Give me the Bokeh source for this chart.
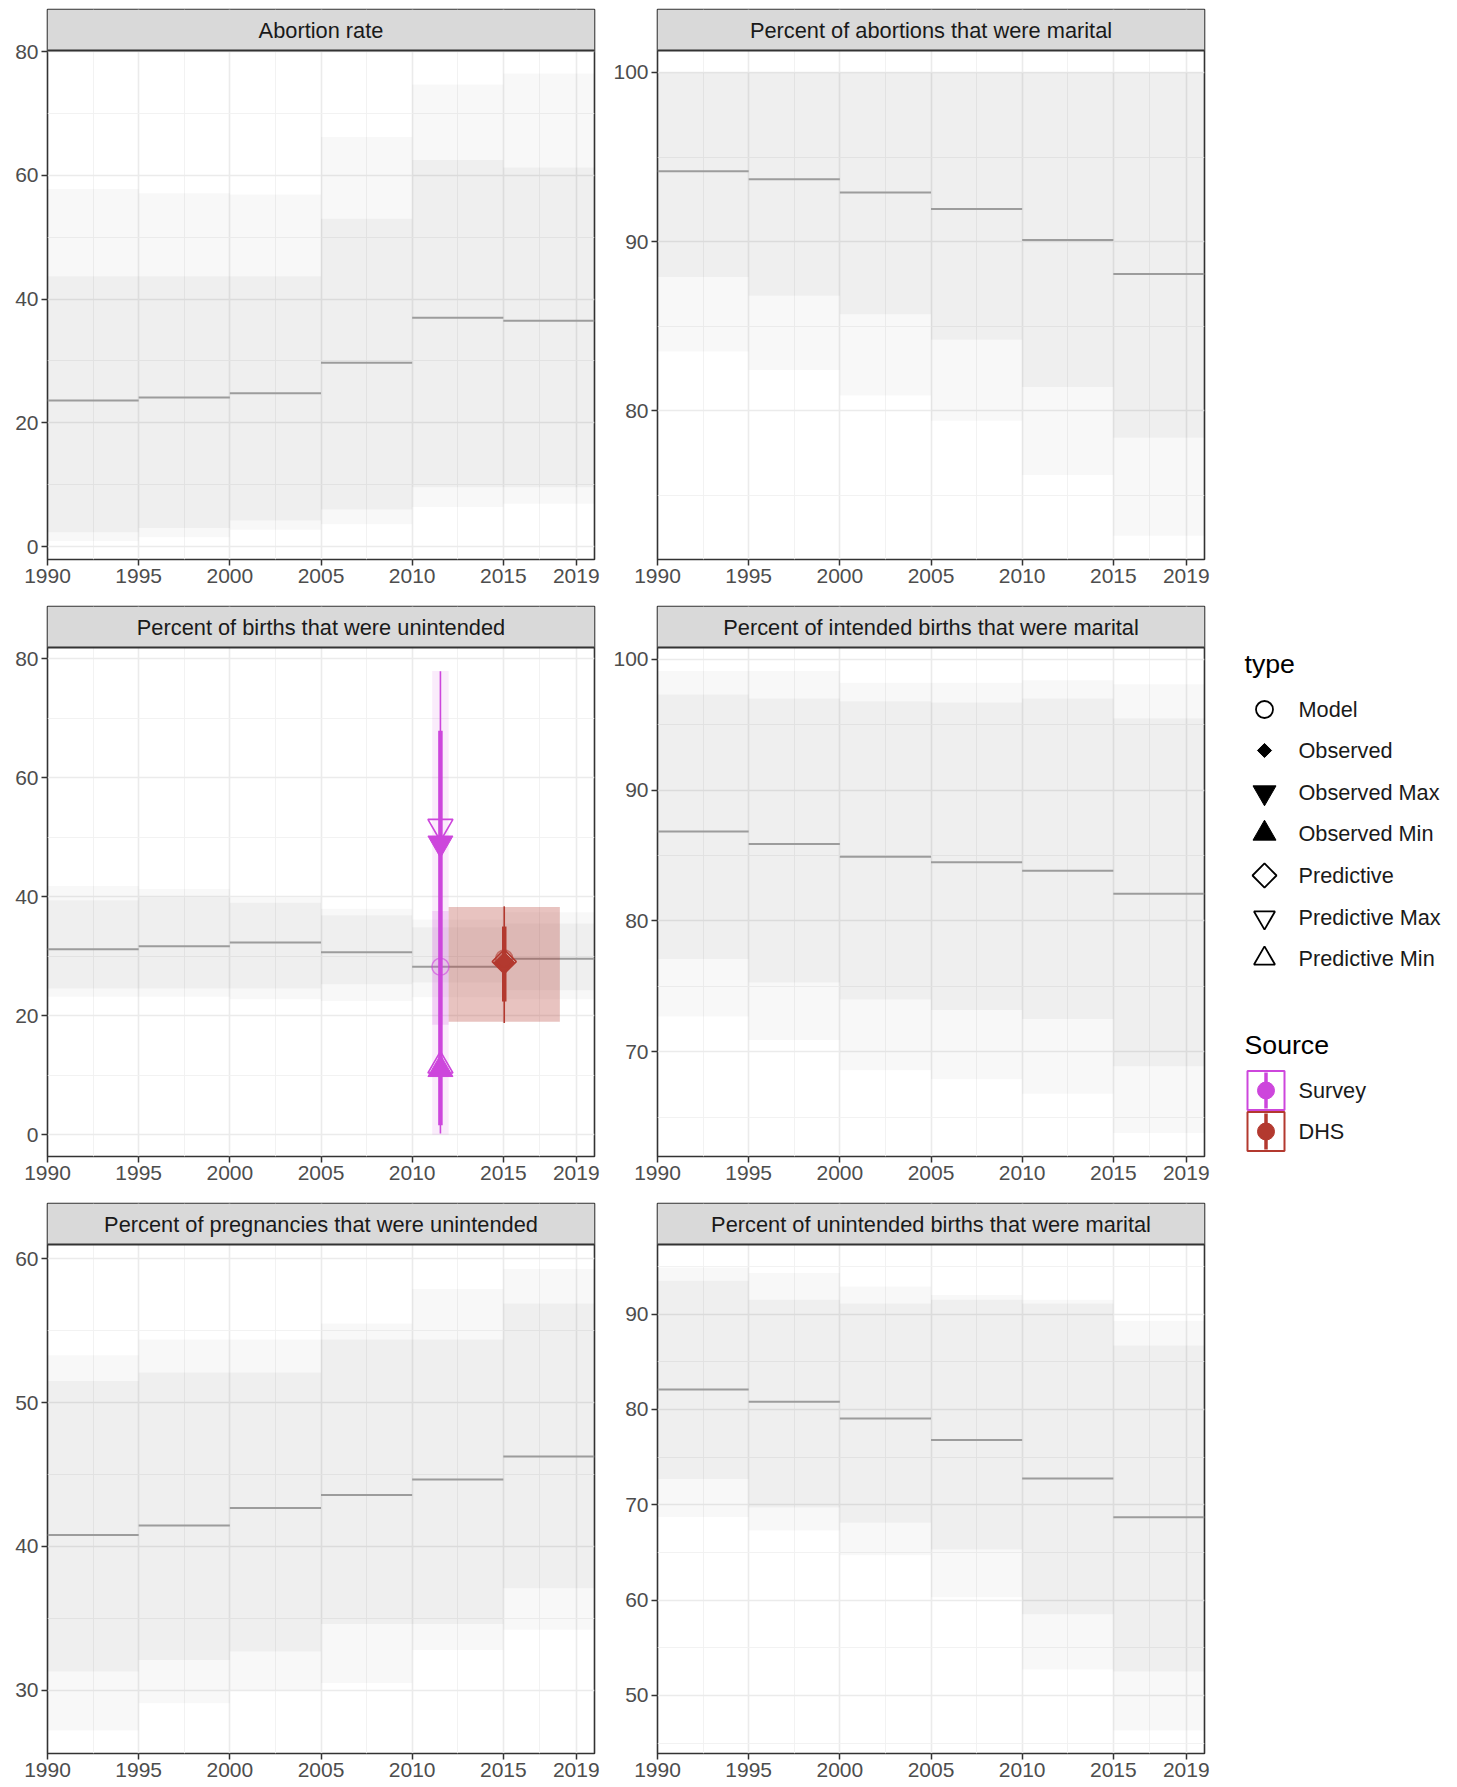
import numpy as np
from bokeh.plotting import figure
from bokeh.layouts import row, column
from bokeh.models import Range1d, FixedTicker
from bokeh.embed import file_html
from bokeh.resources import INLINE
from bokeh.core.properties import value

FONT = "Liberation Sans"
SURVEY = "#CD46DC"
DHS = "#B3392F"
MED = "#9c9c9c"

# ---------------- data ----------------
period_start = [1990, 1995, 2000, 2005, 2010, 2015]
period_end = [1995, 2000, 2005, 2010, 2015, 2020]
x_ticks = [1990, 1995, 2000, 2005, 2010, 2015, 2019]
x_minor = [1992.5, 1997.5, 2002.5, 2007.5, 2012.5, 2017]

abortion_title = "Abortion rate"
abortion_median = [23.6, 24.1, 24.8, 29.7, 37.0, 36.5]
abortion_inner_lo = [2.3, 3.0, 4.2, 6.0, 9.6, 9.6]
abortion_inner_hi = [43.7, 43.7, 43.7, 53.0, 62.5, 61.3]
abortion_outer_lo = [0.9, 1.5, 2.7, 3.6, 6.4, 6.9]
abortion_outer_hi = [57.8, 57.1, 56.9, 66.2, 74.7, 76.5]
abortion_yticks = [0, 20, 40, 60, 80]
abortion_yminor = [10, 30, 50, 70]
abortion_yrange = (-2.1, 80.2)

abmar_title = "Percent of abortions that were marital"
abmar_median = [94.16, 93.68, 92.9, 91.92, 90.1, 88.08]
abmar_inner_lo = [87.9, 86.8, 85.7, 84.2, 81.4, 78.4]
abmar_inner_hi = [100.0, 100.0, 100.0, 100.0, 100.0, 100.0]
abmar_outer_lo = [83.5, 82.4, 80.9, 79.4, 76.2, 72.6]
abmar_outer_hi = [100.0, 100.0, 100.0, 100.0, 100.0, 100.0]
abmar_yticks = [80, 90, 100]
abmar_yminor = [75, 85, 95]
abmar_yrange = (71.2, 101.3)

birthunint_title = "Percent of births that were unintended"
birthunint_median = [31.2, 31.7, 32.3, 30.7, 28.25, 29.6]
birthunint_inner_lo = [24.6, 24.6, 24.6, 25.3, 25.6, 24.3]
birthunint_inner_hi = [39.4, 39.9, 39.0, 36.9, 34.9, 35.5]
birthunint_outer_lo = [23.2, 23.2, 22.8, 22.5, 23.1, 22.8]
birthunint_outer_hi = [41.8, 41.3, 39.9, 38.0, 36.2, 37.4]
birthunint_yticks = [0, 20, 40, 60, 80]
birthunint_yminor = [10, 30, 50, 70]
birthunint_yrange = (-3.65, 81.9)

intmar_title = "Percent of intended births that were marital"
intmar_median = [86.83, 85.88, 84.91, 84.49, 83.84, 82.08]
intmar_inner_lo = [77.1, 75.3, 74.0, 73.2, 72.5, 68.9]
intmar_inner_hi = [97.3, 97.0, 96.8, 96.7, 97.0, 95.5]
intmar_outer_lo = [72.7, 70.9, 68.6, 67.9, 66.8, 63.8]
intmar_outer_hi = [99.1, 99.1, 98.2, 98.2, 98.4, 98.1]
intmar_yticks = [70, 80, 90, 100]
intmar_yminor = [65, 75, 85, 95]
intmar_yrange = (62.0, 100.9)

pregunint_title = "Percent of pregnancies that were unintended"
pregunint_median = [40.79, 41.45, 42.67, 43.57, 44.65, 46.26]
pregunint_inner_lo = [31.3, 32.1, 32.7, 34.6, 34.6, 37.1]
pregunint_inner_hi = [51.5, 52.1, 52.1, 54.4, 54.4, 56.9]
pregunint_outer_lo = [27.2, 29.1, 30.0, 30.5, 32.8, 34.2]
pregunint_outer_hi = [53.3, 54.4, 54.4, 55.5, 57.9, 59.3]
pregunint_yticks = [30, 40, 50, 60]
pregunint_yminor = [35, 45, 55]
pregunint_yrange = (25.6, 61.0)

unintmar_title = "Percent of unintended births that were marital"
unintmar_median = [82.08, 80.8, 79.04, 76.8, 72.76, 68.68]
unintmar_inner_lo = [72.7, 69.7, 68.1, 65.3, 58.5, 52.5]
unintmar_inner_hi = [93.5, 91.5, 91.1, 91.5, 91.1, 86.7]
unintmar_outer_lo = [68.7, 67.3, 64.7, 60.3, 52.7, 46.3]
unintmar_outer_hi = [94.9, 94.3, 92.9, 92.0, 91.5, 89.3]
unintmar_yticks = [50, 60, 70, 80, 90]
unintmar_yminor = [45, 55, 65, 75, 85, 95]
unintmar_yrange = (43.9, 97.3)

# observations (births unintended panel)
survey_year = 2011.55
survey_span = [2011.1, 2012.0]
survey_outer = [0.0, 77.95]
survey_box = [18.5, 37.6]
survey_thin = [0.2, 77.9]
survey_thick = [1.6, 67.9]
survey_obs_max = 49.0
survey_pred_max = 51.8
survey_obs_min = 11.0
survey_pred_min = 11.6
survey_model = 28.25

dhs_year = 2015.05
dhs_span = [2012.0, 2018.1]
dhs_box = [19.0, 38.3]
dhs_thin = [18.8, 38.4]
dhs_thick = [22.4, 35.0]
dhs_obs = 28.9
dhs_pred = 29.1
dhs_model = 29.6

type_labels = ["Model", "Observed", "Observed Max", "Observed Min",
               "Predictive", "Predictive Max", "Predictive Min"]
source_labels = ["Survey", "DHS"]

# ---------------- layout constants ----------------
FRAME_W = 547
PLOT_H = 509          # data area height
STRIP_H = 41          # facet strip height (inside the frame, above the data area)
L_LEFT, L_RIGHT = 47, 12
R_LEFT, R_RIGHT = 51, 12
ROW_TOP = [9, 12, 12]
ROW_BOTTOM = [35, 35, 33]


def panel(title, median, ilo, ihi, olo, ohi, yrange, yticks, yminor,
          left, right, top, bottom):
    y0, y1 = yrange
    ytop = y1 + (y1 - y0) * STRIP_H / PLOT_H
    p = figure(frame_width=FRAME_W, frame_height=PLOT_H + STRIP_H,
               x_range=Range1d(1990, 2020), y_range=Range1d(y0, ytop),
               min_border_left=left, min_border_right=right,
               min_border_top=top, min_border_bottom=bottom,
               toolbar_location=None, output_backend="svg",
               background_fill_color="white", border_fill_color="white")
    p.outline_line_color = "#333333"
    p.outline_line_width = 1.6
    p.xaxis.ticker = FixedTicker(ticks=x_ticks, minor_ticks=x_minor)
    p.yaxis.ticker = FixedTicker(ticks=yticks, minor_ticks=yminor)
    for ax in p.axis:
        ax.axis_line_color = None
        ax.major_tick_line_color = "#333333"
        ax.major_tick_line_width = 1.5
        ax.major_tick_out = 6
        ax.major_tick_in = 0
        ax.minor_tick_line_color = None
        ax.major_label_text_font = FONT
        ax.major_label_text_font_size = "21px"
        ax.major_label_text_color = "#4d4d4d"
        ax.major_label_standoff = 3
    for g in p.grid:
        g.grid_line_color = "#ebebeb"
        g.grid_line_width = 1.6
        g.minor_grid_line_color = "#f0f0f0"
        g.minor_grid_line_width = 0.9
    p.quad(left=period_start, right=period_end, bottom=olo, top=ohi,
           fill_color="black", fill_alpha=0.028, line_color=None)
    p.quad(left=period_start, right=period_end, bottom=ilo, top=ihi,
           fill_color="black", fill_alpha=0.036, line_color=None)
    p.segment(x0=period_start, x1=period_end, y0=median, y1=median,
              line_color=MED, line_width=2)
    # facet strip
    p.quad(left=[1990], right=[2020], bottom=[y1], top=[ytop],
           fill_color="#d9d9d9", line_color=None)
    p.segment(x0=[1990], x1=[2020], y0=[y1], y1=[y1],
              line_color="#333333", line_width=2.2)
    p.text(x=[2005], y=[(y1 + ytop) / 2], text=[title], text_align="center",
           text_baseline="middle", text_font=value(FONT),
           text_font_size="21.8px", text_color="#1a1a1a")
    return p


p1 = panel(abortion_title, abortion_median, abortion_inner_lo, abortion_inner_hi,
           abortion_outer_lo, abortion_outer_hi, abortion_yrange,
           abortion_yticks, abortion_yminor, L_LEFT, L_RIGHT, ROW_TOP[0], ROW_BOTTOM[0])
p3 = panel(birthunint_title, birthunint_median, birthunint_inner_lo, birthunint_inner_hi,
           birthunint_outer_lo, birthunint_outer_hi, birthunint_yrange,
           birthunint_yticks, birthunint_yminor, L_LEFT, L_RIGHT, ROW_TOP[1], ROW_BOTTOM[1])
p5 = panel(pregunint_title, pregunint_median, pregunint_inner_lo, pregunint_inner_hi,
           pregunint_outer_lo, pregunint_outer_hi, pregunint_yrange,
           pregunint_yticks, pregunint_yminor, L_LEFT, L_RIGHT, ROW_TOP[2], ROW_BOTTOM[2])
p2 = panel(abmar_title, abmar_median, abmar_inner_lo, abmar_inner_hi,
           abmar_outer_lo, abmar_outer_hi, abmar_yrange,
           abmar_yticks, abmar_yminor, R_LEFT, R_RIGHT, ROW_TOP[0], ROW_BOTTOM[0])
p4 = panel(intmar_title, intmar_median, intmar_inner_lo, intmar_inner_hi,
           intmar_outer_lo, intmar_outer_hi, intmar_yrange,
           intmar_yticks, intmar_yminor, R_LEFT, R_RIGHT, ROW_TOP[1], ROW_BOTTOM[1])
p6 = panel(unintmar_title, unintmar_median, unintmar_inner_lo, unintmar_inner_hi,
           unintmar_outer_lo, unintmar_outer_hi, unintmar_yrange,
           unintmar_yticks, unintmar_yminor, R_LEFT, R_RIGHT, ROW_TOP[2], ROW_BOTTOM[2])

# ---- observations on births-unintended panel ----
p3.quad(left=[survey_span[0]], right=[survey_span[1]],
        bottom=[survey_outer[0]], top=[survey_outer[1]],
        fill_color=SURVEY, fill_alpha=0.1, line_color=None)
p3.quad(left=[survey_span[0]], right=[survey_span[1]],
        bottom=[survey_box[0]], top=[survey_box[1]],
        fill_color=SURVEY, fill_alpha=0.16, line_color=None)
p3.quad(left=[dhs_span[0]], right=[dhs_span[1]],
        bottom=[dhs_box[0]], top=[dhs_box[1]],
        fill_color=DHS, fill_alpha=0.3, line_color=None)
p3.segment(x0=[survey_year], x1=[survey_year], y0=[survey_thin[0]], y1=[survey_thin[1]],
           line_color=SURVEY, line_width=1.6)
p3.segment(x0=[survey_year], x1=[survey_year], y0=[survey_thick[0]], y1=[survey_thick[1]],
           line_color=SURVEY, line_width=4.5)
p3.segment(x0=[dhs_year], x1=[dhs_year], y0=[dhs_thin[0]], y1=[dhs_thin[1]],
           line_color=DHS, line_width=1.6)
p3.segment(x0=[dhs_year], x1=[dhs_year], y0=[dhs_thick[0]], y1=[dhs_thick[1]],
           line_color=DHS, line_width=4.5)
p3.scatter([survey_year], [survey_pred_max], marker="inverted_triangle", size=25,
           fill_color=None, line_color=SURVEY, line_width=1.6)
p3.scatter([survey_year], [survey_obs_max], marker="inverted_triangle", size=25,
           fill_color=SURVEY, line_color=SURVEY, line_width=1)
p3.scatter([survey_year], [survey_pred_min], marker="triangle", size=25,
           fill_color=None, line_color=SURVEY, line_width=1.6)
p3.scatter([survey_year], [survey_obs_min], marker="triangle", size=25,
           fill_color=SURVEY, line_color=SURVEY, line_width=1)
p3.scatter([survey_year], [survey_model], marker="circle", size=17,
           fill_color=None, line_color=SURVEY, line_alpha=0.6, line_width=1.6)
p3.scatter([dhs_year], [dhs_obs], marker="square", angle=np.pi / 4, size=15,
           fill_color=DHS, line_color=DHS, line_width=1)
p3.scatter([dhs_year], [dhs_pred], marker="square", angle=np.pi / 4, size=17,
           fill_color=None, line_color=DHS, line_width=1.6)
p3.scatter([dhs_year], [dhs_model], marker="circle", size=17,
           fill_color=None, line_color=DHS, line_alpha=0.6, line_width=1.6)

# ---- legend figure (coordinates = pixels of the page) ----
TOTAL_H = sum(ROW_TOP) + sum(ROW_BOTTOM) + 3 * (PLOT_H + STRIP_H)
LEG_X0 = L_LEFT + FRAME_W + L_RIGHT + R_LEFT + FRAME_W + R_RIGHT
LEG_W = 1455 - LEG_X0
lg = figure(width=LEG_W, height=TOTAL_H, x_range=Range1d(LEG_X0, LEG_X0 + LEG_W),
            y_range=Range1d(TOTAL_H, 0), min_border=0,
            x_axis_location=None, y_axis_location=None,
            toolbar_location=None, output_backend="svg",
            outline_line_color=None, background_fill_color="white",
            border_fill_color="white")
lg.grid.visible = False

lg.text(x=[1244], y=[663], text=["type"], text_align="left", text_baseline="middle",
        text_font=value(FONT), text_font_size="26.7px", text_color="black")
type_y = [709, 750, 792, 833, 875, 917, 958]
type_marker = ["circle", "square", "inverted_triangle", "triangle", "square",
               "inverted_triangle", "triangle"]
type_fill = [False, True, True, True, False, False, False]
type_size = [17, 10, 23, 23, 17, 21, 21]
type_angle = [0, np.pi / 4, 0, 0, np.pi / 4, 0, 0]
for yy, mk, fl, sz, an in zip(type_y, type_marker, type_fill, type_size, type_angle):
    lg.scatter([1264], [yy], marker=mk, size=sz, angle=an,
               fill_color="black" if fl else None, line_color="black",
               line_width=1.8 if not fl else 1)
lg.text(x=[1298] * len(type_labels), y=type_y, text=type_labels, text_align="left",
        text_baseline="middle", text_font=value(FONT), text_font_size="21.7px",
        text_color="#1a1a1a")

lg.text(x=[1244], y=[1044], text=["Source"], text_align="left", text_baseline="middle",
        text_font=value(FONT), text_font_size="26.7px", text_color="black")
src_y = [1090, 1131]
src_col = [SURVEY, DHS]
for yy, c in zip(src_y, src_col):
    lg.quad(left=[1247], right=[1284], top=[yy - 19.5], bottom=[yy + 19.5],
            fill_color="white", line_color=c, line_width=2)
    lg.segment(x0=[1265.5], x1=[1265.5], y0=[yy - 18], y1=[yy + 18], line_color=c, line_width=3.5)
    lg.scatter([1265.5], [yy], marker="circle", size=17, fill_color=c, line_color=c)
lg.text(x=[1298, 1298], y=src_y, text=source_labels, text_align="left",
        text_baseline="middle", text_font=value(FONT), text_font_size="21.7px",
        text_color="#1a1a1a")

left_col = column(p1, p3, p5, spacing=0)
right_col = column(p2, p4, p6, spacing=0)
layout = row(left_col, right_col, lg, spacing=0)

open("out.html", "w").write(file_html(layout, INLINE))
